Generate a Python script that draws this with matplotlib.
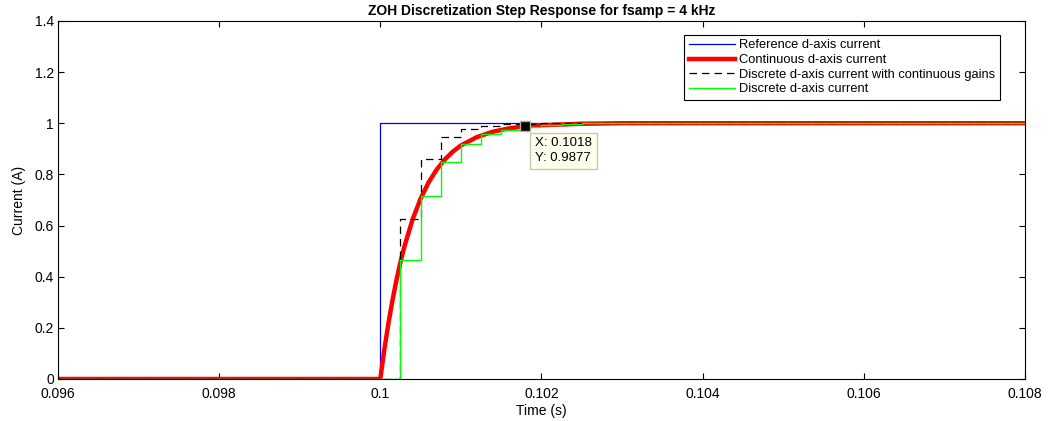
import numpy as np
import matplotlib
matplotlib.use("Agg")
import matplotlib.pyplot as plt

plt.rcParams['font.family'] = ['Liberation Sans', 'DejaVu Sans']

# reference step
t_ref = [0.096, 0.1, 0.1, 0.108]
i_ref = [0, 0, 1, 1]

# continuous response
t_cont = [0.096, 0.1, 0.10005, 0.1001, 0.10015, 0.1002, 0.10025, 0.1003, 0.1004,
          0.1005, 0.1006, 0.1007, 0.1008, 0.1009, 0.101, 0.1012, 0.1014, 0.1016,
          0.1018, 0.102, 0.1025, 0.103, 0.108]
i_cont = [0, 0, 0.115, 0.216, 0.306, 0.386, 0.457, 0.519, 0.623,
          0.705, 0.769, 0.819, 0.858, 0.889, 0.913, 0.946, 0.967, 0.980,
          0.988, 0.992, 0.998, 1.0, 1.0]

# discrete, continuous gains (ZOH steps at 0.25 ms)
t_dc = [0.096, 0.10025, 0.1005, 0.10075, 0.101, 0.10125, 0.1015, 0.10175, 0.102, 0.108]
i_dc = [0, 0.625, 0.86, 0.945, 0.978, 0.991, 0.996, 0.998, 1.0, 1.0]

# discrete d-axis current
t_d = [0.096, 0.10025, 0.1005, 0.10075, 0.101, 0.10125, 0.1015, 0.10175, 0.102, 0.10225, 0.1025, 0.108]
i_d = [0, 0.465, 0.715, 0.85, 0.92, 0.957, 0.975, 0.986, 0.992, 0.996, 0.999, 1.0]

tip_x, tip_y = 0.1018, 0.9877

fig = plt.figure(figsize=(10.49, 4.21), dpi=100)
ax = fig.add_axes([0.0553, 0.0998, 0.9217, 0.8505])

ax.plot(t_ref, i_ref, color='#0000ff', linewidth=0.9, label='Reference d-axis current')
ax.plot(t_cont, i_cont, color='#ff0000', linewidth=3.2, label='Continuous d-axis current')
ax.step(t_dc, i_dc, where='post', color='black', linestyle=(0, (6, 4)), linewidth=0.9,
        label='Discrete d-axis current with continuous gains')
ax.step(t_d, i_d, where='post', color='#00ff00', linewidth=1.0, label='Discrete d-axis current')

# data tip
ax.plot([tip_x], [tip_y], marker='s', markersize=7, color='black',
        markeredgecolor='#b0b090', linestyle='none')
ax.annotate(f'X: {tip_x}\nY: {tip_y}', xy=(tip_x, tip_y), xytext=(7, -8),
            textcoords='offset points', va='top', ha='left', fontsize=9.5,
            linespacing=1.3,
            bbox=dict(boxstyle='square,pad=0.35', facecolor='#ffffee', edgecolor='#c8c8b0'))

ax.set_xlim(0.096, 0.108)
ax.set_ylim(0, 1.4)
ax.set_xticks(np.arange(0.096, 0.1081, 0.002))
ax.set_xticklabels(['0.096', '0.098', '0.1', '0.102', '0.104', '0.106', '0.108'])
ax.set_yticks(np.arange(0, 1.41, 0.2))
ax.set_yticklabels(['0', '0.2', '0.4', '0.6', '0.8', '1', '1.2', '1.4'])
ax.tick_params(direction='in', labelsize=10, top=True, right=True, length=4, pad=3)
ax.tick_params(axis='x', pad=6)
ax.set_xlabel('Time (s)', fontsize=10, labelpad=2)
ax.set_ylabel('Current (A)', fontsize=10, labelpad=6)
ax.set_title('ZOH Discretization Step Response for fsamp = 4 kHz', fontsize=10,
             fontweight='bold', pad=4)

leg = ax.legend(loc='upper right', bbox_to_anchor=(0.974, 0.961), fontsize=9.3,
                fancybox=False, framealpha=1, edgecolor='black',
                handlelength=3.6, borderpad=0.35, labelspacing=0.2, handletextpad=0.3,
                borderaxespad=0)
leg.get_frame().set_linewidth(0.8)

fig.savefig('out.png', dpi=100)
